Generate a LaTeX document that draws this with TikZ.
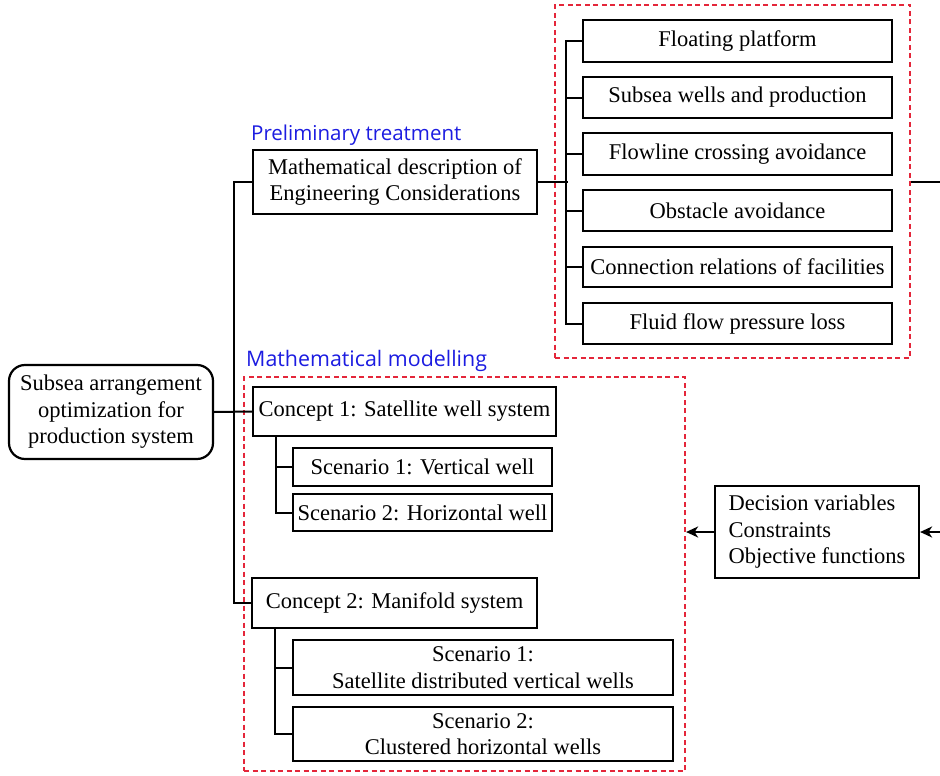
\documentclass[tikz,border=0pt]{standalone}
\usepackage{fontspec}
\setmainfont{Liberation Serif}
\newfontfamily\lblfont{Open Sans}
\usetikzlibrary{arrows.meta}
\definecolor{dashred}{RGB}{228,38,58}
\definecolor{lblblue}{RGB}{28,28,225}
\newcommand\diagfs{\fontsize{22.5}{26.5}\selectfont}
\begin{document}
\begin{tikzpicture}[x=1pt,y=-1pt,
  box/.style={draw, line width=2.2pt, inner sep=0pt, align=center, font=\diagfs},
  conn/.style={line width=2pt},
  reddash/.style={draw=dashred, line width=2.2pt, dash pattern=on 5pt off 3.5pt, inner sep=0pt},
  lbl/.style={inner sep=0pt, text=lblblue, font=\lblfont\fontsize{20.5}{24}\selectfont},
  arr/.style={conn, -{Stealth[length=12pt,width=11pt,inset=3.5pt]}}]
\useasboundingbox (0,0) rectangle (940,776);
\clip (0,0) rectangle (940,776);
\fill[white] (0,0) rectangle (940,776);

% red dashed groups
\node[reddash, minimum width=355pt, minimum height=353pt] (r1) at (732.5,181.5) {};
\node[reddash, minimum width=441pt, minimum height=394pt] (r2) at (464.5,574) {};

% labels
\node[lbl, anchor=base west] (pt) at (251,140) {Preliminary treatment};
\node[lbl, anchor=base west, font=\lblfont\fontsize{21.4}{25}\selectfont] (mm) at (246,366) {Mathematical modelling};

% root
\node[box, rounded corners=16pt, minimum width=204pt, minimum height=94pt] (root) at (111,412) {Subsea arrangement\\optimization for\\production system};

% preliminary treatment
\node[box, minimum width=284pt, minimum height=64pt] (math) at (395,182) {Mathematical description of\\Engineering Considerations};

% engineering considerations
\node[box, minimum width=309pt, minimum height=42pt] (f1) at (737.5,41) {Floating platform};
\node[box, minimum width=309pt, minimum height=41pt] (f2) at (737.5,97.5) {Subsea wells and production};
\node[box, minimum width=309pt, minimum height=42pt] (f3) at (737.5,154) {Flowline crossing avoidance};
\node[box, minimum width=309pt, minimum height=41pt] (f4) at (737.5,210.5) {Obstacle avoidance};
\node[box, minimum width=309pt, minimum height=40pt] (f5) at (737.5,267) {Connection relations of facilities};
\node[box, minimum width=309pt, minimum height=41pt] (f6) at (737.5,323.5) {Fluid flow pressure loss};

% modelling
\node[box, minimum width=303pt, minimum height=49pt] (c1) at (404.5,411.5) {Concept 1: Satellite well system};
\node[box, minimum width=259pt, minimum height=38pt] (s11) at (422.5,467) {Scenario 1: Vertical well};
\node[box, minimum width=259pt, minimum height=37pt] (s12) at (422.5,512.5) {Scenario 2: Horizontal well};
\node[box, minimum width=285pt, minimum height=50pt] (c2) at (394.5,603) {Concept 2: Manifold system};
\node[box, minimum width=380pt, minimum height=55pt] (s21) at (483,667.5) {Scenario 1:\\Satellite distributed vertical wells};
\node[box, minimum width=380pt, minimum height=54pt] (s22) at (483,734) {Scenario 2:\\Clustered horizontal wells};

% decision box
\node[box, minimum width=204pt, minimum height=92pt, align=left] (dec) at (817,532) {Decision variables\\Constraints\\Objective functions};

% connectors
\draw[conn] (math.west) -- ++(-18pt,0) |- (c2.west);
\draw[conn] (root.east) -- (c1.west);
\draw[conn] ([xshift=24pt]c1.south west) |- (s11.west);
\draw[conn] ([xshift=24pt]c1.south west) |- (s12.west);
\draw[conn] ([xshift=24pt]c2.south west) |- (s21.west);
\draw[conn] ([xshift=24pt]c2.south west) |- (s22.west);
\draw[conn] (f1.west) -- ++(-16pt,0) |- (f6.west);
\foreach \n in {f2,f3,f4,f5} \draw[conn] (\n.west) -- ++(-16pt,0);
\draw[conn] (math.east) -- ++(30pt,0);
\draw[arr] (r1.east) -- ++(45pt,0) |- (dec.east);
\draw[arr] (dec.west) -- (dec.west -| r2.east);
\end{tikzpicture}
\end{document}
